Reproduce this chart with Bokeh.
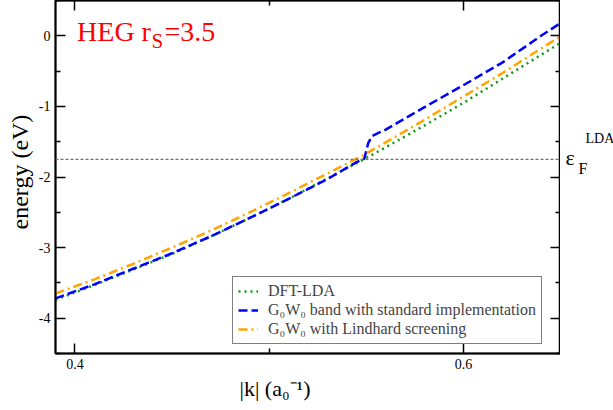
import math
from bokeh.plotting import figure
from bokeh.layouts import row
from bokeh.models import (FixedTicker, LinearAxis, Span, Label, Legend,
                          LegendItem, Range1d)
from bokeh.embed import file_html
from bokeh.resources import INLINE

# ---- data ----
k_lda = [0.39, 0.41, 0.43, 0.45, 0.47, 0.49, 0.51, 0.53, 0.548,
         0.56, 0.58, 0.60, 0.62, 0.64, 0.65]
e_lda = [-3.74, -3.53, -3.31, -3.09, -2.84, -2.58, -2.31, -2.02, -1.76,
         -1.58, -1.27, -0.95, -0.61, -0.27, -0.10]

k_g0w0 = [0.39, 0.41, 0.43, 0.45, 0.47, 0.49, 0.51, 0.53, 0.545, 0.549,
          0.551, 0.553, 0.556, 0.56, 0.58, 0.60, 0.62, 0.64, 0.65]
e_g0w0 = [-3.72, -3.52, -3.30, -3.08, -2.84, -2.58, -2.31, -2.03, -1.79, -1.74,
          -1.52, -1.42, -1.38, -1.33, -1.01, -0.70, -0.38, 0.00, 0.18]

k_lind = [0.39, 0.41, 0.43, 0.45, 0.47, 0.49, 0.51, 0.53, 0.548,
          0.56, 0.58, 0.60, 0.62, 0.64, 0.65]
e_lind = [-3.65, -3.45, -3.23, -3.00, -2.76, -2.50, -2.23, -1.95, -1.70,
          -1.51, -1.19, -0.86, -0.53, -0.18, -0.01]

x_major = [0.4, 0.6]
x_minor = [0.5]
y_major = [-4, -3, -2, -1, 0]
y_minor = [-4.5, -3.5, -2.5, -1.5, -0.5, 0.5]
e_fermi = -1.75

labels = ["DFT-LDA",
          "G\u2080W\u2080 band with standard implementation",
          "G\u2080W\u2080 with Lindhard screening"]

FONT = "Liberation Serif"
FH = 353  # frame height in px

y_range = Range1d(-4.5, 0.5)


def blank_panel(width):
    f = figure(frame_width=width, frame_height=FH,
               x_range=Range1d(0, width), y_range=y_range,
               output_backend="svg", toolbar_location=None,
               x_axis_type=None, y_axis_type=None,
               min_border_left=0, min_border_right=0,
               min_border_top=0, min_border_bottom=0,
               background_fill_color="white", border_fill_color="white")
    f.outline_line_color = None
    f.xgrid.visible = False
    f.ygrid.visible = False
    return f


p = figure(frame_width=505, frame_height=FH,
           x_range=Range1d(0.39, 0.65), y_range=y_range,
           output_backend="svg", toolbar_location=None,
           min_border_left=17, min_border_right=0,
           min_border_top=0, min_border_bottom=0,
           background_fill_color="white", border_fill_color="white")
p.xgrid.visible = False
p.ygrid.visible = False
p.outline_line_color = "black"
p.outline_line_width = 1.5

# main axes
xa = p.xaxis[0]
ya = p.yaxis[0]
xa.ticker = FixedTicker(ticks=x_major, minor_ticks=x_minor)
ya.ticker = FixedTicker(ticks=y_major, minor_ticks=y_minor)
ya.major_label_overrides = {t: str(t) for t in y_major}
for ax in (xa, ya):
    ax.major_tick_in = 10
    ax.major_tick_out = 0
    ax.minor_tick_in = 5
    ax.minor_tick_out = 0
    ax.axis_line_width = 2
    ax.major_tick_line_width = 1.5
    ax.minor_tick_line_width = 1.5
    ax.major_label_text_font = FONT
    ax.major_label_text_font_size = "14px"
    ax.major_label_text_color = "black"
    ax.major_label_standoff = 5
    ax.axis_label_text_font = FONT
    ax.axis_label_text_font_size = "22px"
    ax.axis_label_text_font_style = "normal"
    ax.axis_label_text_color = "black"
# trailing en-spaces shift the centred label to the left, as in the reference
xa.axis_label = "|k| (a\u2080\u207b\u00b9)" + "\u2002" * 6
xa.axis_label_standoff = 4

# mirror axes (ticks only)
for loc, tk in (("above", FixedTicker(ticks=x_major, minor_ticks=x_minor)),
                ("right", FixedTicker(ticks=y_major, minor_ticks=y_minor))):
    ax = LinearAxis(ticker=tk)
    ax.major_tick_in = 10
    ax.major_tick_out = 0
    ax.minor_tick_in = 5
    ax.minor_tick_out = 0
    ax.axis_line_width = 2
    ax.major_tick_line_width = 1.5
    ax.minor_tick_line_width = 1.5
    ax.major_label_text_font_size = "0px"
    ax.major_label_standoff = 0
    p.add_layout(ax, loc)

# Fermi level
p.add_layout(Span(location=e_fermi, dimension="width", line_color="#707070",
                  line_width=1.3, line_dash="3 2"))

r_lda = p.line(k_lda, e_lda, line_color="#109a10", line_width=2.5,
               line_dash="2 4")
r_g0w0 = p.line(k_g0w0, e_g0w0, line_color="#0000ff", line_width=2.5,
                line_dash="9 4")
r_lind = p.line(k_lind, e_lind, line_color="#ffa500", line_width=2.5,
                line_dash="9 4 2 4")

legend = Legend(items=[LegendItem(label=labels[0], renderers=[r_lda]),
                       LegendItem(label=labels[1], renderers=[r_g0w0]),
                       LegendItem(label=labels[2], renderers=[r_lind])],
                location=(177, 9), margin=0, padding=5, spacing=1,
                glyph_width=20, glyph_height=18, label_height=18,
                label_standoff=10,
                label_text_font=FONT, label_text_font_size="16px",
                border_line_color="black", border_line_width=1,
                background_fill_color="white", background_fill_alpha=1)
p.add_layout(legend, "center")

# title text inside the plot
p.add_layout(Label(x=0.4011, y=0.06, text="HEG r", text_font=FONT,
                   text_font_size="28px", text_color="#ff0000",
                   text_baseline="alphabetic"))
p.add_layout(Label(x=0.4394, y=-0.08, text="S", text_font=FONT,
                   text_font_size="21px", text_color="#ff0000",
                   text_baseline="alphabetic"))
p.add_layout(Label(x=0.4461, y=0.06, text="=3.5", text_font=FONT,
                   text_font_size="28px", text_color="#ff0000",
                   text_baseline="alphabetic"))

# left panel with the y-axis title
left = blank_panel(35)
left.add_layout(Label(x=19, y=-1.93, text="energy (eV)", text_font=FONT,
                      text_font_size="24px", text_color="black",
                      text_align="center", text_baseline="middle",
                      angle=math.pi / 2))

# right panel carrying the epsilon_F^LDA label
side = blank_panel(54)
side.add_layout(Label(x=5, y=-1.72, text="\u03b5", text_font=FONT,
                      text_font_size="22px", text_color="black",
                      text_baseline="alphabetic"))
side.add_layout(Label(x=18, y=-1.88, text="F", text_font=FONT,
                      text_font_size="16px", text_color="black",
                      text_baseline="alphabetic"))
side.add_layout(Label(x=25, y=-1.45, text="LDA", text_font=FONT,
                      text_font_size="14px", text_color="black",
                      text_baseline="alphabetic"))

page = row(left, p, side)
open("out.html", "w").write(file_html(page, INLINE))
